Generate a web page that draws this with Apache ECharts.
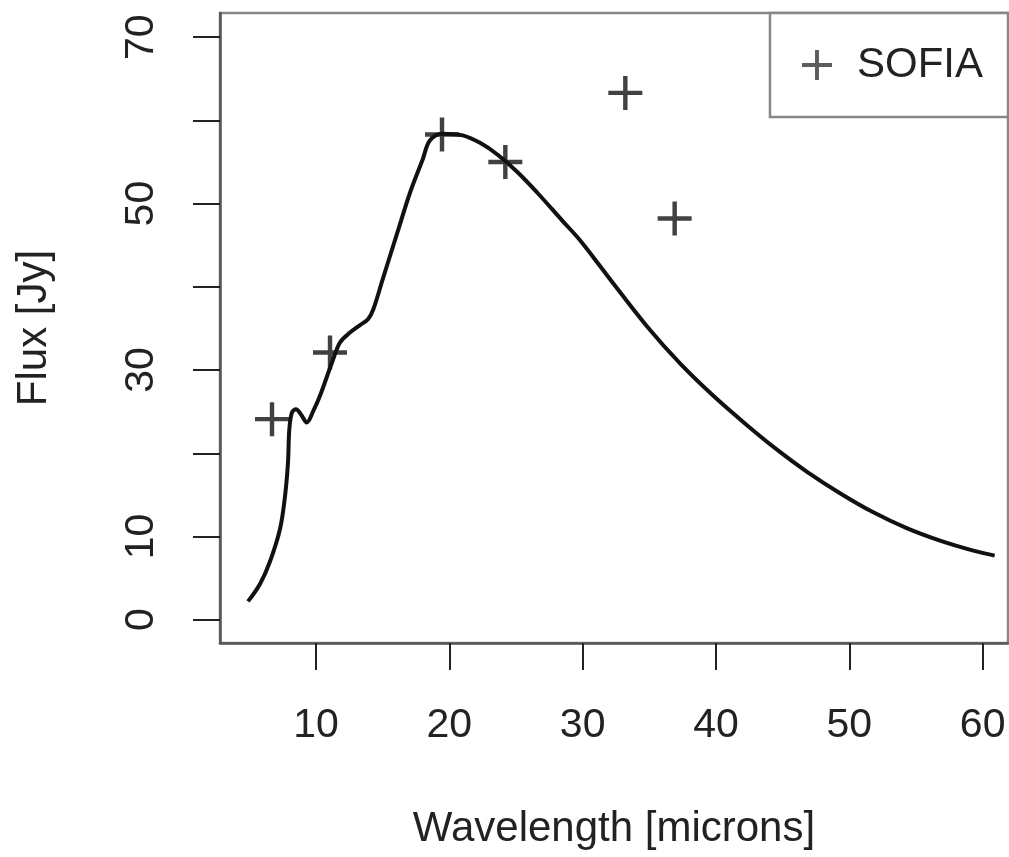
<!DOCTYPE html>
<html>
<head>
<meta charset="utf-8">
<script src="https://cdn.jsdelivr.net/npm/echarts@6/dist/echarts.min.js"></script>
<style>
  html, body { margin: 0; padding: 0; background: #fff; }
  #chart { width: 1009px; height: 857px; }
</style>
</head>
<body>
<div id="chart"></div>
<script>
// model curve (wavelength in microns, flux in Jy)
const curveX = [4.9, 5.8, 6.55, 7.3, 7.68, 7.9, 8.0, 8.2, 8.5, 8.9, 9.3, 9.8, 10.3, 11.2, 11.8, 12.55, 13.3, 13.9, 14.3, 15.0, 16.1, 17.05, 18.0, 18.55, 19.5, 21.0, 22.3, 23.6, 25.1, 26.6, 28.5, 29.8, 31.3, 32.3, 34.8, 37.3, 39.8, 42.3, 44.6, 46.8, 49.3, 51.8, 54.3, 56.8, 59.3, 60.9];
const curveY = [2.2, 4.3, 7.0, 10.9, 14.9, 18.9, 22.9, 24.9, 25.3, 24.6, 23.7, 25.1, 26.9, 30.9, 33.3, 34.5, 35.4, 36.1, 37.3, 40.9, 46.5, 51.3, 55.3, 57.6, 58.4, 58.2, 57.3, 55.9, 53.8, 51.3, 47.9, 45.6, 42.5, 40.4, 35.3, 30.8, 26.9, 23.4, 20.4, 17.8, 15.2, 12.9, 11.0, 9.5, 8.3, 7.7];

// SOFIA photometry
const sofiaX = [6.7, 11.05, 19.45, 24.2, 33.2, 36.9];
const sofiaY = [24.1, 32.1, 58.3, 55.0, 63.3, 48.2];

// axis ticks and labels
const xTicks = [10, 20, 30, 40, 50, 60];
const yTicks = [0, 10, 20, 30, 40, 50, 60, 70];
const yLabels = [0, 10, 30, 50, 70];

const font = "'Liberation Sans', Arial, sans-serif";
const plus = 'path://M-1.3,-10L1.3,-10L1.3,-1.3L10,-1.3L10,1.3L1.3,1.3L1.3,10L-1.3,10L-1.3,1.3L-10,1.3L-10,-1.3L-1.3,-1.3Z';

let chart = echarts.init(document.getElementById('chart'));
let option = {
  animation: false,
  backgroundColor: '#fff',
  grid: {
    left: 220, right: 1, top: 13, bottom: 214,
    show: true,
    borderColor: '#888',
    borderWidth: 2.5,
    outerBoundsMode: 'none'
  },
  legend: {
    data: [{ name: 'SOFIA', icon: plus }],
    right: 1,
    top: 13,
    orient: 'vertical',
    itemWidth: 30,
    itemHeight: 30,
    padding: [31, 25, 31, 32],
    borderColor: '#888',
    borderWidth: 2.5,
    backgroundColor: '#fff',
    itemStyle: { color: '#333' },
    textStyle: { fontFamily: font, fontSize: 42, color: '#222', padding: [0, 0, 0, 20] }
  },
  xAxis: {
    type: 'value',
    min: 2.8,
    max: 61.9,
    name: 'Wavelength [microns]',
    nameLocation: 'middle',
    nameGap: 165,
    nameTextStyle: { fontFamily: font, fontSize: 42, color: '#222' },
    axisLine: { show: true, onZero: false, lineStyle: { color: '#555', width: 2.5 } },
    axisTick: { show: true, length: 27, customValues: xTicks, lineStyle: { color: '#222', width: 2 } },
    axisLabel: { customValues: xTicks, margin: 62, fontFamily: font, fontSize: 41, color: '#222' },
    splitLine: { show: false }
  },
  yAxis: {
    type: 'value',
    min: -2.8,
    max: 72.9,
    name: 'Flux [Jy]',
    nameLocation: 'middle',
    nameGap: 165,
    nameTextStyle: { fontFamily: font, fontSize: 42, color: '#222' },
    axisLine: { show: true, onZero: false, lineStyle: { color: '#555', width: 2.5 } },
    axisTick: { show: true, length: 27, customValues: yTicks, lineStyle: { color: '#222', width: 2 } },
    axisLabel: { customValues: yLabels, rotate: 90, margin: 58, fontFamily: font, fontSize: 41, color: '#222' },
    splitLine: { show: false }
  },
  series: [
    {
      name: 'model',
      type: 'line',
      data: curveX.map((x, i) => [x, curveY[i]]),
      smooth: 0.35,
      showSymbol: false,
      lineStyle: { color: '#111', width: 4 },
      z: 2
    },
    {
      name: 'SOFIA',
      type: 'scatter',
      data: sofiaX.map((x, i) => [x, sofiaY[i]]),
      symbol: plus,
      symbolSize: 34,
      itemStyle: { color: '#111' },
      z: 3
    }
  ]
};
chart.setOption(option);
</script>
</body>
</html>
